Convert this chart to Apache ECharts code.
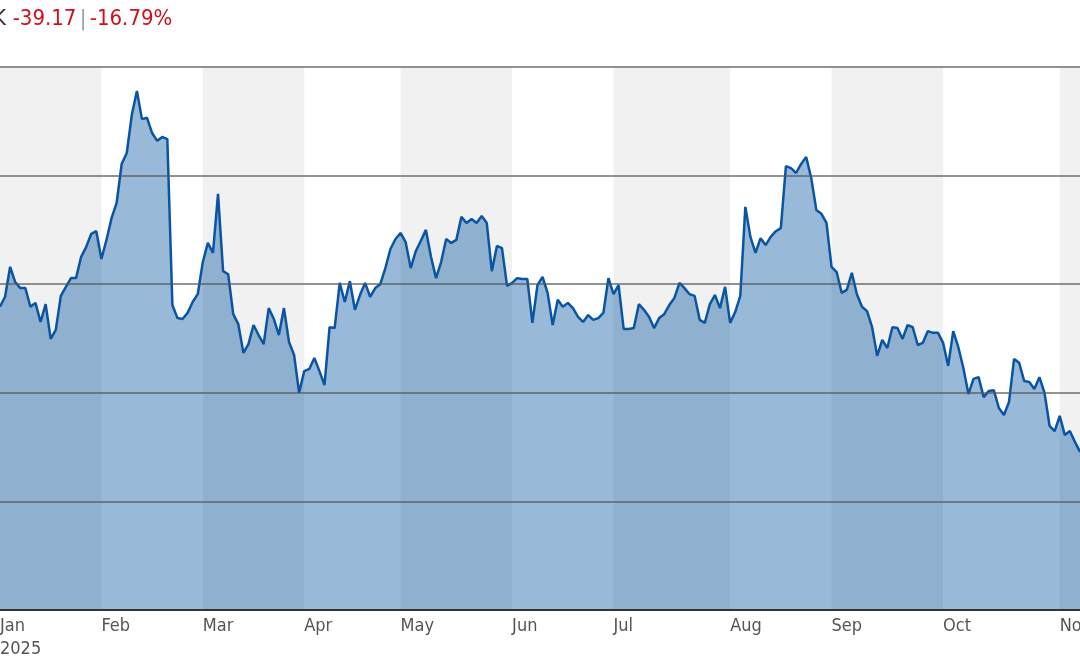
<!DOCTYPE html>
<html>
<head>
<meta charset="utf-8">
<script src="https://cdn.jsdelivr.net/npm/echarts@6/dist/echarts.min.js"></script>
<style>
  html, body { margin: 0; padding: 0; background: #fff; }
  #echart_main { width: 1080px; height: 664px; }
</style>
</head>
<body>
<div id="echart_main"></div>
<script>
// prices, one per trading day
var prices = [
    219.8, 222.1, 229.0, 225.5, 224.1, 224.1, 219.8, 220.7, 216.3, 220.4, 212.4, 214.5, 222.3, 224.4, 226.4, 226.4, 231.3, 233.6, 236.6, 237.2,
    230.8, 235.2, 240.2, 243.7, 252.7, 255.2, 264.0, 269.5, 263.0, 263.3, 259.8, 258.0, 258.9, 258.4, 220.2, 217.2, 217.0, 218.4, 220.9, 222.7,
    230.1, 234.5, 232.2, 245.8, 228.0, 227.3, 218.1, 215.8, 209.2, 211.2, 215.6, 213.3, 211.2, 219.5,
    217.0, 213.3, 219.5, 211.7, 208.7, 200.0, 205.0, 205.5, 208.0, 205.0, 201.8, 215.1, 214.9, 225.3, 220.9, 225.7, 219.1, 222.5, 225.3, 222.1,
    224.1, 225.0, 228.7, 233.1, 235.4, 236.8, 234.7, 228.7, 232.6, 235.0, 237.5, 231.3, 226.4, 230.1, 235.4, 234.5, 235.2, 240.5, 239.1, 240.0,
    239.1, 240.7, 239.1, 228.0, 233.8, 233.3, 224.6, 225.3, 226.4, 226.2, 226.2, 216.1, 224.8,
    226.7, 223.0, 215.6, 221.4, 219.8, 220.7, 219.5, 217.5, 216.3, 217.9, 216.8, 217.2, 218.4, 226.4, 222.7, 224.8, 214.7, 214.7, 214.9, 220.4,
    219.1, 217.5, 214.9, 217.2, 218.1, 220.2, 221.8, 225.3, 224.1, 222.7, 222.3, 216.8, 216.1, 220.4, 222.5, 219.5, 224.4, 216.1, 218.6, 222.3,
    242.8, 235.9, 232.2, 235.6, 234.0, 235.9, 237.2, 237.9, 252.2, 251.7, 250.6, 252.7, 254.3,
    249.4, 242.1, 241.2, 239.1, 229.0, 227.8, 223.0, 223.7, 227.6, 222.7, 219.8, 218.8, 215.1, 208.5, 212.2, 210.3, 215.1, 214.9, 212.4, 215.6,
    215.1, 211.0, 211.5, 214.2, 213.8, 213.8, 211.5, 206.2, 214.2, 210.5, 205.7, 199.7, 203.2, 203.6, 199.0, 200.4, 200.6, 196.5, 194.9, 197.9,
    207.8, 206.9, 202.7, 202.5, 200.9, 203.6, 200.0, 192.4, 191.2, 194.7, 190.3, 191.2, 188.7, 186.4
];
// index of the first trading day of each month
var monthStart = [0, 20, 40, 60, 79, 101, 121, 144, 164, 186, 209];
var monthNames = ['Jan', 'Feb', 'Mar', 'Apr', 'May', 'Jun', 'Jul', 'Aug', 'Sep', 'Oct', 'Nov'];
var yTicks = [150, 175, 200, 225, 250, 275];
var change = '-39.17';
var changePct = '-16.79%';

var days = prices.map(function (v, i) { return String(i); });
var FONT = "'DejaVu Sans Condensed', 'Liberation Sans Narrow', sans-serif";

// gray bands on every other month
var bands = [];
for (var m = 0; m < monthStart.length; m += 2) {
    var end = m + 1 < monthStart.length ? monthStart[m + 1] : prices.length - 1;
    bands.push([{ xAxis: String(monthStart[m]) }, { xAxis: String(end) }]);
}
// horizontal rules drawn over the area, like the original
var rules = yTicks.slice(1).map(function (v) { return { yAxis: v }; });
rules.push({ yAxis: yTicks[0], lineStyle: { color: '#333', width: 2, opacity: 1 } });

var myChart = echarts.init(document.getElementById('echart_main'));
var option = {
    animation: false,
    backgroundColor: '#fff',
    graphic: [{
        type: 'text',
        left: -7,
        top: 8,
        style: {
            text: '{k|K}  {r|' + change + '} {s||} {r|' + changePct + '}',
            rich: {
                k: { fontFamily: FONT, fontSize: 22, fill: '#333' },
                r: { fontFamily: FONT, fontSize: 22, fill: '#d0101b' },
                s: { fontFamily: FONT, fontSize: 22, fill: '#999' }
            }
        }
    }],
    grid: { left: 0, right: 0, top: 67, bottom: 54, outerBoundsMode: 'none' },
    xAxis: {
        type: 'category',
        boundaryGap: false,
        data: days,
        axisLine: { show: false },
        axisTick: { show: false },
        splitLine: { show: false },
        axisLabel: {
            interval: function (i) { return monthStart.indexOf(i) >= 0; },
            formatter: function (v) {
                var k = monthStart.indexOf(Number(v));
                return k === 0 ? monthNames[k] + '\n2025' : monthNames[k];
            },
            align: 'left',
            margin: 5,
            color: '#555',
            fontFamily: FONT,
            fontSize: 18,
            lineHeight: 23
        }
    },
    yAxis: {
        type: 'value',
        min: yTicks[0],
        max: yTicks[yTicks.length - 1],
        interval: 25,
        axisLabel: { show: false },
        axisLine: { show: false },
        axisTick: { show: false },
        splitLine: { show: false }
    },
    series: [
        {
            type: 'line',
            z: 0,
            data: [],
            markArea: {
                silent: true,
                itemStyle: { color: '#f1f1f1' },
                data: bands
            }
        },
        {
            type: 'line',
            z: 2,
            data: prices,
            symbol: 'none',
            lineStyle: { color: '#0a55a3', width: 2.5 },
            areaStyle: { color: 'rgb(0,80,157)', opacity: 0.4, origin: 'start' },
            markLine: {
                silent: true,
                symbol: 'none',
                label: { show: false },
                lineStyle: { color: '#555', width: 1.5, type: 'solid', opacity: 0.85 },
                data: rules
            }
        }
    ]
};
myChart.setOption(option);
window.onresize = function () {
    myChart.resize();
}
</script>
</body>
</html>
